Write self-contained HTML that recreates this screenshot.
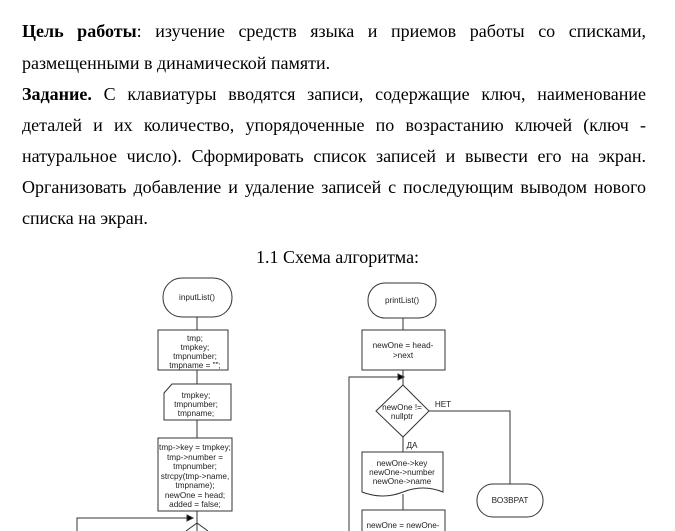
<!DOCTYPE html>
<html><head><meta charset="utf-8"><style>
body{margin:0;width:675px;height:531px;background:#fff;overflow:hidden;position:relative;font-family:"Liberation Serif",serif;}
.l{position:absolute;left:22px;width:624px;font-size:18px;line-height:20px;white-space:nowrap;color:#000;}
.j{text-align:justify;text-align-last:justify;white-space:normal;}
svg{position:absolute;left:0;top:0;}
svg text{font-family:"Liberation Sans",sans-serif;font-size:8.2px;fill:#222;text-anchor:middle;}
</style></head><body>
<div class="l j" style="top:21px"><b>Цель работы</b>: изучение средств языка и приемов работы со списками,</div>
<div class="l" style="top:53px">размещенными в динамической памяти.</div>
<div class="l j" style="top:84px"><b>Задание.</b> С клавиатуры вводятся записи, содержащие ключ, наименование</div>
<div class="l j" style="top:115px">деталей и их количество, упорядоченные по возрастанию ключей (ключ -</div>
<div class="l j" style="top:146px">натуральное число). Сформировать список записей и вывести его на экран.</div>
<div class="l j" style="top:177px">Организовать добавление и удаление записей с последующим выводом нового</div>
<div class="l" style="top:208px">списка на экран.</div>
<div class="l" style="top:247px;left:0;width:675px;text-align:center">1.1 Схема алгоритма:</div>
<svg width="675" height="531" viewBox="0 0 675 531" fill="none" stroke="#333" stroke-width="1">
<rect x="163" y="278" width="69" height="39" rx="19"/>
<text x="197" y="300" stroke="none">inputList()</text>
<line x1="197" y1="317" x2="197" y2="330"/>
<rect x="158" y="330" width="70" height="40"/>
<text x="195" y="341" stroke="none">tmp;</text>
<text x="195" y="350" stroke="none">tmpkey;</text>
<text x="195" y="359" stroke="none">tmpnumber;</text>
<text x="195" y="368" stroke="none">tmpname = "";</text>
<line x1="197" y1="370" x2="197" y2="384"/>
<path d="M172 384 H231 V420 H164 V393 Z"/>
<text x="196" y="398" stroke="none">tmpkey;</text>
<text x="196" y="407" stroke="none">tmpnumber;</text>
<text x="196" y="416" stroke="none">tmpname;</text>
<line x1="197" y1="420" x2="197" y2="438"/>
<rect x="158" y="438" width="74" height="73"/>
<text x="195" y="450" stroke="none">tmp-&gt;key = tmpkey;</text>
<text x="195" y="460" stroke="none">tmp-&gt;number =</text>
<text x="195" y="469" stroke="none">tmpnumber;</text>
<text x="195" y="479" stroke="none">strcpy(tmp-&gt;name,</text>
<text x="195" y="488" stroke="none">tmpname);</text>
<text x="195" y="498" stroke="none">newOne = head;</text>
<text x="195" y="507" stroke="none">added = false;</text>
<line x1="197" y1="511" x2="197" y2="531"/>
<path d="M77 531 V518 H192"/>
<path d="M187 515 L193 518 L187 521 Z" fill="#000"/>
<path d="M186 531 L197 523 L208 531"/>
<rect x="368" y="283" width="68" height="35" rx="17"/>
<text x="402" y="303" stroke="none">printList()</text>
<line x1="403" y1="318" x2="403" y2="330"/>
<rect x="362" y="330" width="83" height="40"/>
<text x="403" y="348" stroke="none">newOne = head-</text>
<text x="403" y="358" stroke="none">&gt;next</text>
<line x1="403" y1="370" x2="403" y2="385"/>
<path d="M349 531 V377 H398"/>
<path d="M398 374 L404 377 L398 380 Z" fill="#000"/>
<path d="M403 385 L429 411 L403 437 L376 411 Z"/>
<text x="402" y="410" stroke="none">newOne !=</text>
<text x="402" y="419" stroke="none">nullptr</text>
<path d="M429 411 H510 V484"/>
<text x="443" y="407" stroke="none">НЕТ</text>
<line x1="403" y1="437" x2="403" y2="452"/>
<text x="412" y="448" stroke="none">ДА</text>
<path d="M362 452 H443 V492 Q423 484 403 492 Q383 500 362 492 Z"/>
<text x="402" y="466" stroke="none">newOne-&gt;key</text>
<text x="402" y="475" stroke="none">newOne-&gt;number</text>
<text x="402" y="484" stroke="none">newOne-&gt;name</text>
<line x1="403" y1="494" x2="403" y2="510"/>
<rect x="362" y="510" width="83" height="30"/>
<text x="403" y="528" stroke="none">newOne = newOne-</text>
<rect x="477" y="484" width="66" height="33" rx="16"/>
<text x="510" y="503" stroke="none">ВОЗВРАТ</text>
</svg>
</body></html>
